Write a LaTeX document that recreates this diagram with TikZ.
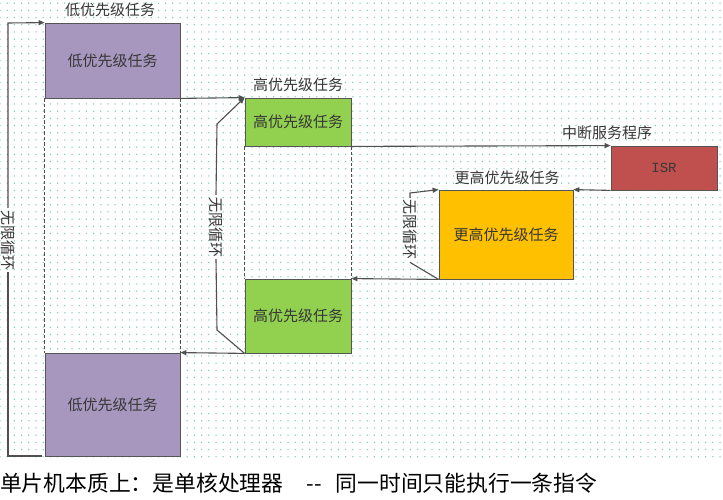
\documentclass[tikz,border=0pt]{standalone}
\usepackage{fontspec}
\setmainfont{Noto Sans CJK SC}
\newfontfamily\isrfont{Liberation Mono}
\usetikzlibrary{arrows.meta,patterns}
\pgfdeclarepatternformonly{bgdots}{\pgfpoint{-1pt}{-1pt}}{\pgfpoint{1pt}{1pt}}{\pgfpoint{7.2pt}{7.2pt}}{\pgfpathcircle{\pgfpointorigin}{0.75pt}\pgfusepath{fill}}
\definecolor{dotc}{RGB}{120,200,188}
\definecolor{purp}{RGB}{167,151,190}
\definecolor{grn}{RGB}{146,208,80}
\definecolor{isrc}{RGB}{192,80,77}
\definecolor{orng}{RGB}{255,192,0}
\definecolor{boxline}{RGB}{85,85,85}
\definecolor{lnc}{RGB}{80,80,80}
\definecolor{txt}{RGB}{55,55,55}
\begin{document}
\begin{tikzpicture}[x=1pt,y=-1pt,
  box/.style={draw=boxline, line width=0.8pt, text=txt, font=\fontsize{15}{18}\selectfont, inner sep=0pt},
  lbl/.style={text=txt, font=\fontsize{15}{18}\selectfont, inner sep=1pt},
  looplbl/.style={lbl, rotate=-90, inner sep=2pt},
  conn/.style={draw=lnc, line width=1.1pt, -{Triangle[length=6pt,width=5pt]}},
  plain/.style={draw=lnc, line width=1.1pt},
  dsh/.style={draw=lnc, line width=1.2pt, dash pattern=on 3.5pt off 2pt}
]
\useasboundingbox (0,0) rectangle (723,500);
\fill[white] (0,0) rectangle (723,500);
\fill[pattern=bgdots, pattern color=dotc] (0,0) rectangle (723,462);

% boxes
\node[box, fill=purp, minimum width=135pt, minimum height=75pt] (lp1) at (112.5,60.5) {低优先级任务};
\node[box, fill=grn, minimum width=106pt, minimum height=48pt] (hp1) at (298,122) {高优先级任务};
\node[box, fill=isrc, minimum width=106pt, minimum height=44pt, font=\isrfont\fontsize{14}{16}\selectfont] (isr) at (664,168) {ISR};
\node[box, fill=orng, minimum width=134pt, minimum height=89pt] (hhp) at (506,234.5) {更高优先级任务};
\node[box, fill=grn, minimum width=106pt, minimum height=74pt] (hp2) at (298,316) {高优先级任务};
\node[box, fill=purp, minimum width=135pt, minimum height=103pt] (lp2) at (112.5,404.5) {低优先级任务};

% labels above boxes
\node[lbl] (t1) at (110,10) {低优先级任务};
\node[lbl] (t2) at (298,85) {高优先级任务};
\node[lbl] (t3) at (607,133) {中断服务程序};
\node[lbl] (t4) at (507,178) {更高优先级任务};

% dashed guides
\draw[dsh] (lp1.south west) -- (lp2.north west);
\draw[dsh] (lp1.south east) -- (lp2.north east);
\draw[dsh] (hp1.south west) -- (hp2.north west);
\draw[dsh] (hp1.south east) -- (hp2.north east);

% flow
\draw[conn] (lp1.south east) -- (hp1.north west);
\draw[conn] (hp1.south east) -- (isr.north west);
\draw[conn] (isr.south west) -- (hhp.north east);
\draw[conn] (hhp.south west) -- (hp2.north east);
\draw[conn] (hp2.south west) -- (lp2.north east);

% loop 1
\coordinate (l1a) at (42,456);
\coordinate (l1b) at (8,456);
\coordinate (l1c) at (8,23);
\node[looplbl] (loop1) at (8,240) {无限循环};
\draw[plain] (l1a) -- (l1b) -- (loop1.east);
\draw[conn] (loop1.west) -- (l1c) -- (lp1.north west);

% loop 2
\coordinate (l2a) at (217,330);
\coordinate (l2b) at (217,124);
\node[looplbl] (loop2) at (216,227) {无限循环};
\draw[plain] (hp2.south west) -- (l2a) -- (loop2.east);
\draw[conn] (loop2.west) -- (l2b) -- (hp1.north west);

% loop 3
\coordinate (l3a) at (411,263);
\coordinate (l3b) at (410,193);
\node[looplbl] (loop3) at (410,230) {无限循环};
\draw[plain] (hhp.south west) -- (l3a) -- (loop3.east);
\draw[conn] (loop3.west) -- (l3b) -- (hhp.north west);

% bottom note
\node[anchor=west, inner sep=0pt, text=black, font=\fontsize{21.8}{26}\selectfont] (note) at (0,483) {单片机本质上：是单核处理器\hspace{23pt}{-}{-}\hspace{14pt}同一时间只能执行一条指令};
\end{tikzpicture}
\end{document}
